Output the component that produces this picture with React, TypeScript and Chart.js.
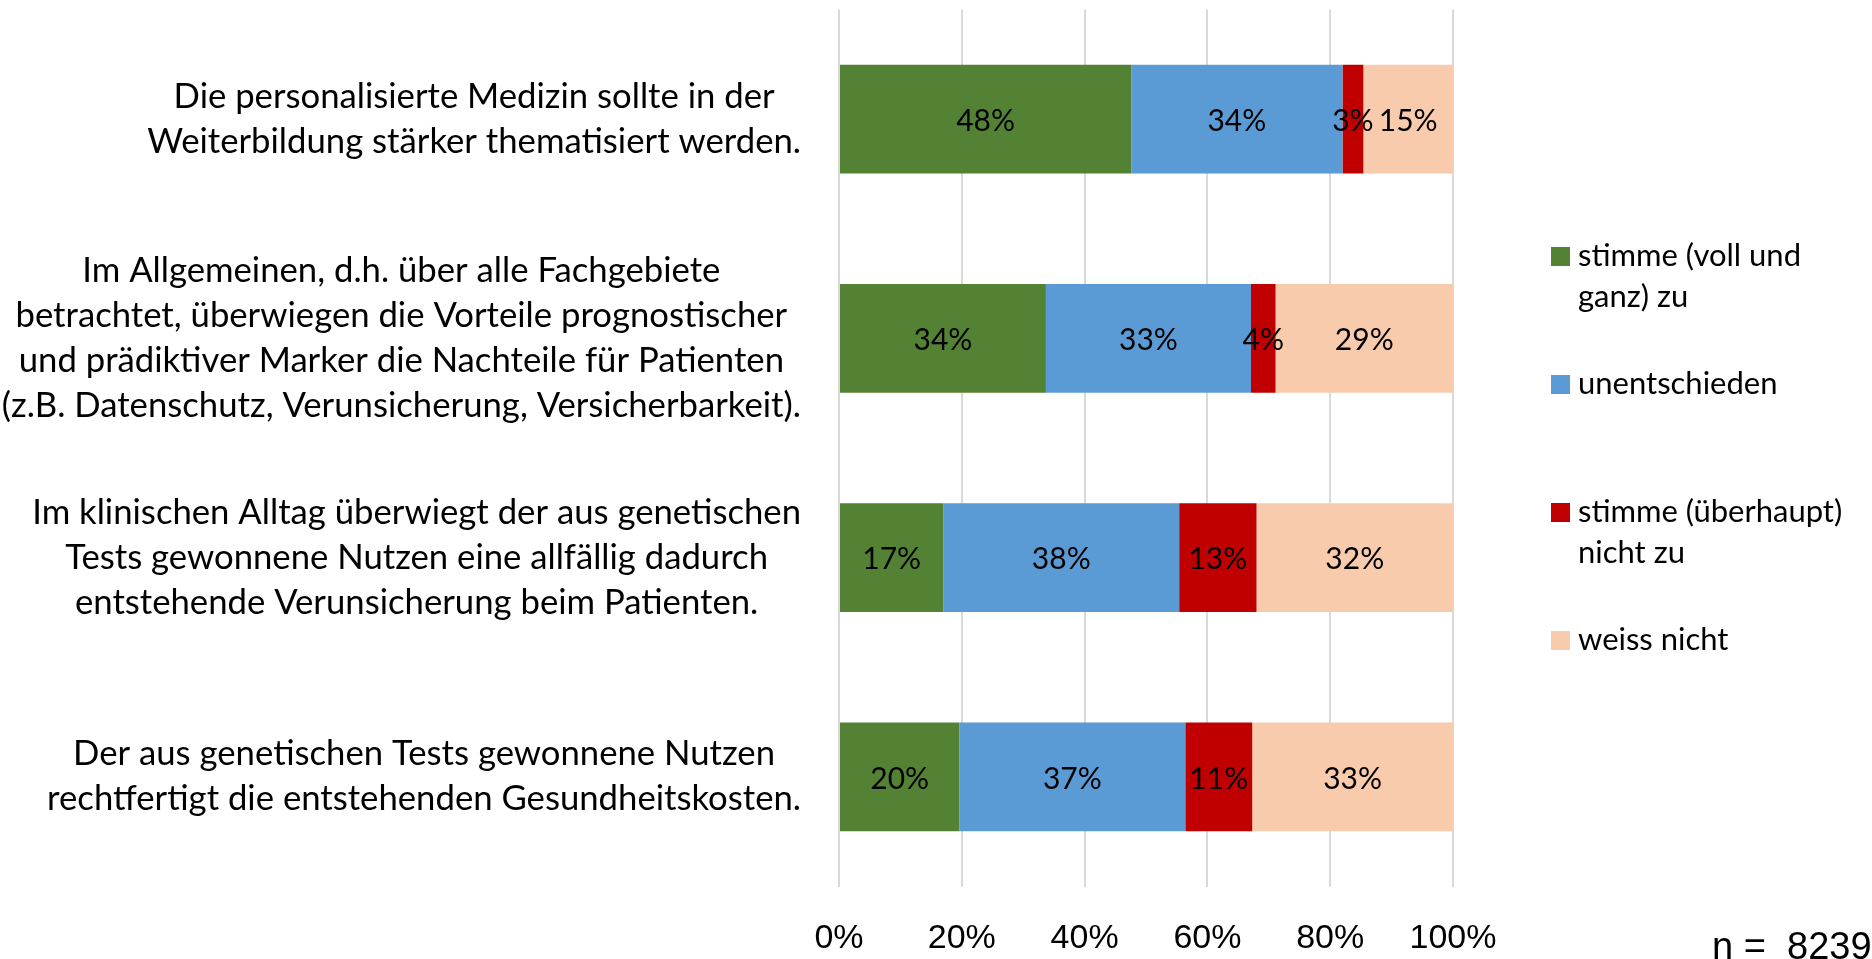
import React, { useEffect, useRef } from "react";
import { Chart, registerables } from "chart.js";

Chart.register(...registerables);

const categories: string[][] = [
  ["Die personalisierte Medizin sollte in der", "Weiterbildung stärker thematisiert werden."],
  [
    "Im Allgemeinen, d.h. über alle Fachgebiete",
    "betrachtet, überwiegen die Vorteile prognostischer",
    "und prädiktiver Marker die Nachteile für Patienten",
    "(z.B. Datenschutz, Verunsicherung, Versicherbarkeit).",
  ],
  [
    "Im klinischen Alltag überwiegt der aus genetischen",
    "Tests gewonnene Nutzen eine allfällig dadurch",
    "entstehende Verunsicherung beim Patienten.",
  ],
  ["Der aus genetischen Tests gewonnene Nutzen", "rechtfertigt die entstehenden Gesundheitskosten."],
];

const seriesNames = ["stimme (voll und ganz) zu", "unentschieden", "stimme (überhaupt) nicht zu", "weiss nicht"];
const legendLines: string[][] = [["stimme (voll und", "ganz) zu"], ["unentschieden"], ["stimme (überhaupt)", "nicht zu"], ["weiss nicht"]];

const agree = [47.6, 33.7, 17.0, 19.6];
const undecided = [34.4, 33.4, 38.4, 36.8];
const disagree = [3.4, 4.0, 12.6, 10.9];
const dontKnow = [14.6, 28.9, 32.0, 32.7];

const xTickValues = [0, 20, 40, 60, 80, 100];
const sampleNote = "n =  8239";

const colors = ["#548235", "#5B9BD5", "#C00000", "#F8CBAD"];

const LABEL_FONT = "Lato";
const LABEL_SIZE = 34.7;
const LINE_H = 45;

const overlayPlugin = {
  id: "overlay",
  afterDatasetsDraw(chart: any) {
    const ctx = chart.ctx;
    ctx.save();
    ctx.font = `30px ${LABEL_FONT}`;
    ctx.fillStyle = "#000";
    ctx.textAlign = "center";
    ctx.textBaseline = "middle";
    chart.data.datasets.forEach((ds: any, di: number) => {
      const meta = chart.getDatasetMeta(di);
      meta.data.forEach((el: any, i: number) => {
        const p = el.getProps(["x", "y", "base"], true);
        const v = ds.data[i] as number;
        ctx.fillText(`${Math.round(v)}%`, (p.x + p.base) / 2, p.y + 2);
      });
    });
    ctx.restore();
  },
  afterDraw(chart: any) {
    const ctx = chart.ctx;
    const area = chart.chartArea;
    const yScale = chart.scales.y;
    ctx.save();
    ctx.fillStyle = "#000";
    // category labels: each block right-aligned to the axis, lines centred within the block
    ctx.font = `${LABEL_SIZE}px ${LABEL_FONT}`;
    ctx.textAlign = "center";
    ctx.textBaseline = "alphabetic";
    const rightEdge = area.left - 38;
    categories.forEach((lines, i) => {
      const yc = yScale.getPixelForValue(i);
      const maxW = Math.max(...lines.map((l) => ctx.measureText(l).width));
      const cx = rightEdge - maxW / 2;
      const n = lines.length;
      lines.forEach((l, k) => {
        ctx.fillText(l, cx, yc + (k - (n - 1) / 2) * LINE_H + 11);
      });
    });
    // legend
    ctx.font = `31px ${LABEL_FONT}`;
    ctx.textAlign = "left";
    const legendX = 1551;
    const sq = 19;
    legendLines.forEach((lines, i) => {
      const top = 247 + i * 128;
      ctx.fillStyle = colors[i];
      ctx.fillRect(legendX, top, sq, sq);
      ctx.fillStyle = "#000";
      lines.forEach((l, k) => {
        ctx.fillText(l, legendX + 27, top + sq + k * 41);
      });
    });
    // sample size note
    ctx.font = "38px 'Liberation Sans'";
    ctx.fillText(sampleNote, 1712, 959);
    ctx.restore();
  },
};

export default function App() {
  const ref = useRef<HTMLCanvasElement | null>(null);
  useEffect(() => {
    if (!ref.current) return;
    const chart = new Chart(ref.current, {
      type: "bar",
      data: {
        labels: categories.map((c) => c.join(" ")),
        datasets: [agree, undecided, disagree, dontKnow].map((d, i) => ({
          label: seriesNames[i],
          data: d,
          backgroundColor: colors[i],
          borderWidth: 0,
          barPercentage: 1,
          categoryPercentage: 0.497,
        })),
      },
      options: {
        indexAxis: "y",
        responsive: false,
        animation: false,
        layout: { padding: { left: 839, right: 419, top: 9.5, bottom: 0 } },
        plugins: { legend: { display: false }, tooltip: { enabled: false } },
        scales: {
          x: {
            stacked: true,
            min: 0,
            max: 100,
            afterBuildTicks: (scale: any) => {
              scale.ticks = xTickValues.map((v) => ({ value: v }));
            },
            ticks: {
              callback: (v: any) => `${v}%`,
              font: { family: "'Liberation Sans'", size: 34 },
              color: "#000",
              padding: 32,
              maxRotation: 0,
              autoSkip: false,
            },
            grid: { color: "#d9d9d9", lineWidth: 2, drawTicks: false },
            border: { display: false },
            afterFit: (scale: any) => {
              scale.height = 72.5;
            },
          },
          y: {
            stacked: true,
            display: false,
          },
        },
      },
      plugins: [overlayPlugin],
    });
    return () => chart.destroy();
  }, []);
  return (
    <div style={{ position: "absolute", left: 0, top: 0, width: 1872, height: 959, background: "#fff" }}>
      <canvas ref={ref} width={1872} height={959} style={{ display: "block" }} />
    </div>
  );
}
